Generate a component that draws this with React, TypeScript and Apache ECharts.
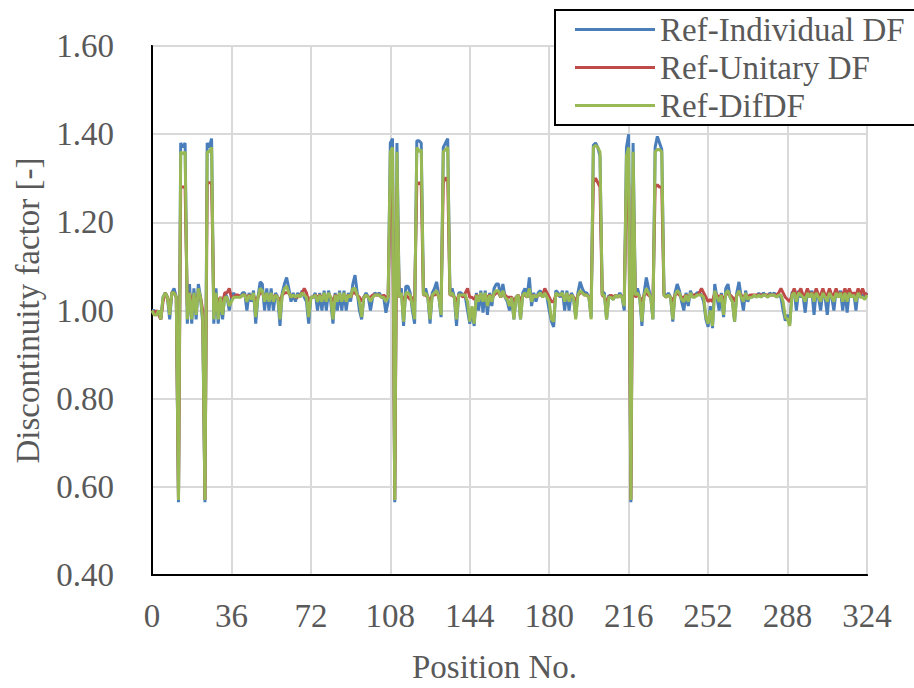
import React, { useEffect, useRef } from "react";
import * as echarts from "echarts";

const seriesNames = ["Ref-Individual DF", "Ref-Unitary DF", "Ref-DifDF"];
const colors = ["#4a7ebb", "#be4b48", "#98b954"];
const xTicks = { min: 0, max: 324, interval: 36 };
const yTicks = { min: 0.4, max: 1.6, interval: 0.2 };

const individualDF = [
  1.00, 1.00, 0.99, 1.00, 0.98, 1.03, 1.04, 1.03, 0.98, 1.04,
  1.05, 1.03, 0.565, 1.38, 1.37, 1.38, 0.97, 1.06, 0.97, 1.05,
  0.98, 1.06, 1.03, 0.97, 0.565, 1.38, 1.37, 1.39, 0.97, 1.05,
  0.97, 1.03, 0.98, 1.04, 1.03, 1.00, 1.03, 1.04, 1.03, 1.035,
  1.03, 1.04, 1.04, 1.00, 1.04, 1.02, 1.045, 0.97, 1.03, 1.065,
  1.06, 1.00, 1.05, 1.00, 1.05, 1.00, 1.04, 1.03, 0.965, 1.04,
  1.06, 1.075, 1.05, 1.02, 1.04, 1.02, 1.04, 1.03, 1.045, 1.03,
  1.02, 0.97, 1.03, 1.03, 1.04, 1.00, 1.04, 1.00, 1.045, 1.00,
  1.045, 1.02, 0.97, 1.04, 1.00, 1.045, 1.00, 1.045, 1.00, 1.04,
  1.02, 1.06, 1.08, 1.04, 1.00, 0.98, 1.03, 1.04, 1.03, 1.00,
  1.03, 1.04, 1.035, 1.04, 1.03, 1.03, 0.995, 1.02, 1.38, 1.39,
  0.565, 1.38, 1.04, 1.05, 0.965, 1.055, 1.055, 1.04, 1.00, 0.97,
  1.385, 1.385, 1.38, 1.04, 1.05, 1.03, 0.97, 1.04, 1.05, 1.065,
  1.03, 0.985, 1.37, 1.38, 1.39, 1.04, 1.05, 1.03, 0.965, 1.04,
  1.04, 1.035, 1.03, 1.00, 0.97, 1.00, 0.965, 1.04, 1.00, 1.045,
  0.995, 1.045, 0.99, 1.04, 1.01, 1.05, 1.06, 1.06, 1.03, 1.06,
  1.03, 1.02, 1.00, 1.03, 0.98, 1.03, 1.035, 0.98, 1.04, 1.05,
  1.03, 1.075, 1.01, 1.04, 1.02, 1.04, 1.045, 1.03, 1.04, 1.03,
  1.00, 0.975, 0.963, 1.045, 1.04, 1.03, 1.045, 1.00, 1.045, 1.00,
  1.04, 1.03, 0.985, 1.04, 1.065, 1.05, 1.04, 1.04, 1.03, 0.985,
  1.375, 1.38, 1.37, 1.35, 1.04, 1.04, 0.98, 1.035, 1.03, 1.025,
  1.035, 1.03, 1.04, 1.03, 1.00, 1.37, 1.40, 0.565, 1.38, 1.04,
  1.05, 1.03, 0.965, 1.04, 1.075, 1.05, 1.03, 0.98, 1.37, 1.395,
  1.38, 1.365, 1.04, 1.03, 1.04, 1.03, 0.975, 1.04, 1.06, 1.045,
  1.02, 1.00, 1.04, 1.01, 1.045, 1.03, 1.035, 1.04, 1.04, 1.035,
  1.02, 0.98, 0.963, 1.01, 0.96, 1.06, 1.03, 1.00, 1.04, 0.985,
  1.05, 1.06, 1.03, 1.02, 0.975, 1.04, 1.065, 1.03, 1.00, 1.045,
  1.02, 1.035, 1.03, 1.035, 1.03, 1.04, 1.03, 1.04, 1.035, 1.03,
  1.04, 1.035, 1.04, 1.03, 1.035, 1.03, 1.00, 0.977, 0.99, 0.97,
  1.04, 1.045, 1.00, 1.045, 1.03, 1.035, 0.995, 1.045, 1.03, 1.045,
  0.99, 1.045, 1.03, 1.00, 1.045, 1.03, 0.99, 1.045, 1.03, 1.00,
  1.045, 1.03, 1.045, 1.00, 1.045, 0.995, 1.045, 1.03, 1.04, 1.00,
  1.045, 1.03, 1.035, 1.03, 1.04,
];

const unitaryDF = [
  1.00, 0.99, 1.00, 0.99, 0.98, 1.02, 1.04, 1.03, 1.00, 1.04,
  1.04, 1.03, 0.57, 1.28, 1.28, 1.28, 1.01, 1.04, 1.02, 1.03,
  1.02, 1.04, 1.03, 1.00, 0.57, 1.29, 1.29, 1.29, 1.02, 1.03,
  1.02, 1.03, 1.02, 1.04, 1.04, 1.05, 1.03, 1.03, 1.035, 1.035,
  1.03, 1.035, 1.035, 1.03, 1.035, 1.03, 1.035, 1.02, 1.03, 1.04,
  1.04, 1.03, 1.035, 1.03, 1.035, 1.03, 1.035, 1.03, 1.02, 1.035,
  1.04, 1.04, 1.04, 1.03, 1.035, 1.03, 1.03, 1.035, 1.04, 1.05,
  1.04, 1.02, 1.03, 1.03, 1.035, 1.03, 1.035, 1.03, 1.035, 1.03,
  1.035, 1.03, 1.02, 1.035, 1.03, 1.035, 1.03, 1.035, 1.03, 1.035,
  1.03, 1.04, 1.04, 1.035, 1.03, 1.02, 1.03, 1.035, 1.03, 1.03,
  1.035, 1.035, 1.035, 1.035, 1.03, 1.035, 1.03, 1.03, 1.28, 1.29,
  0.57, 1.28, 1.03, 1.035, 1.02, 1.035, 1.03, 1.025, 1.03, 1.02,
  1.285, 1.29, 1.285, 1.035, 1.035, 1.03, 1.02, 1.035, 1.035, 1.04,
  1.03, 1.02, 1.29, 1.30, 1.30, 1.035, 1.035, 1.03, 1.02, 1.035,
  1.035, 1.03, 1.04, 1.05, 1.03, 1.03, 1.025, 1.035, 1.03, 1.035,
  1.03, 1.035, 1.03, 1.035, 1.03, 1.035, 1.04, 1.04, 1.03, 1.04,
  1.035, 1.03, 1.03, 1.03, 1.02, 1.03, 1.035, 1.02, 1.035, 1.035,
  1.03, 1.04, 1.03, 1.035, 1.03, 1.035, 1.035, 1.035, 1.05, 1.04,
  1.03, 1.02, 1.02, 1.035, 1.035, 1.035, 1.035, 1.03, 1.035, 1.03,
  1.035, 1.03, 1.02, 1.035, 1.04, 1.04, 1.035, 1.035, 1.03, 1.02,
  1.29, 1.30, 1.29, 1.28, 1.035, 1.03, 1.02, 1.03, 1.035, 1.03,
  1.035, 1.03, 1.035, 1.03, 1.03, 1.28, 1.29, 0.57, 1.28, 1.03,
  1.035, 1.03, 1.02, 1.035, 1.04, 1.035, 1.03, 1.02, 1.28, 1.285,
  1.28, 1.28, 1.035, 1.03, 1.035, 1.03, 1.02, 1.035, 1.04, 1.035,
  1.03, 1.03, 1.035, 1.03, 1.035, 1.035, 1.035, 1.035, 1.04, 1.05,
  1.04, 1.03, 1.02, 1.025, 1.02, 1.04, 1.035, 1.03, 1.035, 1.025,
  1.035, 1.04, 1.035, 1.03, 1.02, 1.035, 1.04, 1.035, 1.03, 1.035,
  1.03, 1.035, 1.035, 1.035, 1.035, 1.035, 1.035, 1.035, 1.035, 1.035,
  1.035, 1.035, 1.035, 1.035, 1.04, 1.05, 1.04, 1.03, 1.025, 1.02,
  1.035, 1.05, 1.035, 1.04, 1.05, 1.035, 1.035, 1.05, 1.035, 1.04,
  1.035, 1.05, 1.035, 1.035, 1.05, 1.035, 1.035, 1.05, 1.035, 1.035,
  1.05, 1.035, 1.04, 1.035, 1.05, 1.035, 1.05, 1.035, 1.04, 1.035,
  1.05, 1.035, 1.05, 1.035, 1.04,
];

const difDF = [
  1.00, 0.99, 0.99, 1.00, 0.98, 1.03, 1.04, 1.03, 0.99, 1.04,
  1.04, 1.03, 0.57, 1.36, 1.355, 1.36, 0.98, 1.04, 0.98, 1.04,
  0.99, 1.05, 1.03, 0.98, 0.57, 1.36, 1.36, 1.37, 0.98, 1.04,
  0.98, 1.03, 0.99, 1.03, 1.03, 1.01, 1.02, 1.03, 1.03, 1.03,
  1.03, 1.035, 1.035, 1.02, 1.035, 1.025, 1.04, 0.985, 1.03, 1.05,
  1.045, 1.02, 1.04, 1.02, 1.04, 1.02, 1.035, 1.03, 0.98, 1.035,
  1.05, 1.055, 1.04, 1.03, 1.035, 1.03, 1.035, 1.03, 1.04, 1.035,
  1.03, 0.985, 1.03, 1.03, 1.035, 1.02, 1.035, 1.02, 1.04, 1.02,
  1.04, 1.03, 0.98, 1.035, 1.02, 1.04, 1.02, 1.04, 1.02, 1.035,
  1.03, 1.05, 1.05, 1.035, 1.02, 0.985, 1.03, 1.035, 1.03, 1.02,
  1.03, 1.035, 1.035, 1.035, 1.03, 1.03, 1.02, 1.03, 1.36, 1.37,
  0.57, 1.36, 1.03, 1.04, 0.975, 1.04, 1.04, 1.035, 1.01, 0.98,
  1.37, 1.36, 1.365, 1.035, 1.04, 1.03, 0.98, 1.035, 1.04, 1.045,
  1.03, 0.99, 1.36, 1.365, 1.37, 1.035, 1.04, 1.03, 0.98, 1.035,
  1.035, 1.035, 1.035, 1.02, 0.975, 1.01, 0.97, 1.035, 1.02, 1.04,
  1.02, 1.04, 1.01, 1.035, 1.02, 1.04, 1.045, 1.045, 1.03, 1.045,
  1.03, 1.025, 1.01, 1.03, 0.98, 1.03, 1.035, 0.98, 1.035, 1.04,
  1.03, 1.05, 1.02, 1.035, 1.03, 1.035, 1.04, 1.03, 1.04, 1.03,
  1.02, 0.98, 0.975, 1.04, 1.035, 1.035, 1.04, 1.02, 1.04, 1.02,
  1.035, 1.03, 0.98, 1.035, 1.045, 1.04, 1.035, 1.035, 1.03, 0.98,
  1.37, 1.375, 1.37, 1.36, 1.035, 1.035, 0.98, 1.03, 1.03, 1.025,
  1.035, 1.03, 1.035, 1.03, 1.01, 1.35, 1.37, 0.57, 1.36, 1.035,
  1.04, 1.03, 0.975, 1.035, 1.05, 1.04, 1.03, 0.98, 1.36, 1.365,
  1.365, 1.36, 1.035, 1.03, 1.035, 1.03, 0.98, 1.035, 1.045, 1.04,
  1.025, 1.02, 1.035, 1.02, 1.04, 1.03, 1.03, 1.035, 1.035, 1.035,
  1.03, 0.985, 0.97, 1.00, 0.965, 1.045, 1.03, 1.02, 1.035, 0.99,
  1.04, 1.045, 1.03, 1.02, 0.975, 1.035, 1.045, 1.03, 1.02, 1.04,
  1.025, 1.03, 1.03, 1.035, 1.03, 1.035, 1.03, 1.035, 1.035, 1.03,
  1.035, 1.035, 1.035, 1.03, 1.035, 1.035, 1.02, 0.985, 0.98, 0.965,
  1.035, 1.04, 1.02, 1.04, 1.035, 1.03, 1.02, 1.04, 1.03, 1.04,
  1.02, 1.04, 1.03, 1.02, 1.04, 1.03, 1.02, 1.04, 1.03, 1.02,
  1.04, 1.03, 1.04, 1.02, 1.04, 1.02, 1.04, 1.03, 1.035, 1.02,
  1.04, 1.03, 1.03, 1.025, 1.035,
];

const allSeries = [individualDF, unitaryDF, difDF];
const FONT = "Liberation Serif, Times New Roman, Times, DejaVu Serif, serif";
const TEXT = "#595959";

export default function App() {
  const ref = useRef<HTMLDivElement>(null);
  useEffect(() => {
    if (!ref.current) return;
    const chart = echarts.init(ref.current, null, { renderer: "svg" });
    chart.setOption({
      animation: false,
      backgroundColor: "#fff",
      textStyle: { fontFamily: FONT },
      grid: {
        left: 152, right: 47, top: 46, bottom: 108,
        show: true, borderColor: "#000", borderWidth: 2, containLabel: false,
      },
      legend: {
        data: seriesNames,
        orient: "vertical",
        left: 555, top: 10,
        icon: "rect",
        itemWidth: 80, itemHeight: 3, itemGap: 5,
        padding: [3, 30, 3, 20],
        borderColor: "#000", borderWidth: 2, backgroundColor: "#fff",
        textStyle: { fontFamily: FONT, fontSize: 33, color: TEXT, lineHeight: 31 },
      },
      xAxis: {
        type: "value",
        min: xTicks.min, max: xTicks.max, interval: xTicks.interval,
        name: "Position No.", nameLocation: "middle", nameGap: 75,
        nameTextStyle: { fontFamily: FONT, fontSize: 33, color: TEXT, padding: [0, 30, 0, 0] },
        axisLine: { show: true, onZero: false, lineStyle: { color: "#000", width: 2 } },
        axisTick: { show: false },
        axisLabel: { margin: 24, fontFamily: FONT, fontSize: 33, color: TEXT },
        splitLine: { show: true, lineStyle: { color: "#d9d9d9", width: 2 } },
      },
      yAxis: {
        type: "value",
        min: yTicks.min, max: yTicks.max, interval: yTicks.interval,
        name: "Discontinuity factor [-]", nameLocation: "middle", nameGap: 108,
        nameTextStyle: { fontFamily: FONT, fontSize: 33, color: TEXT },
        axisLine: { show: true, lineStyle: { color: "#000", width: 2 } },
        axisTick: { show: false },
        axisLabel: {
          margin: 38, fontFamily: FONT, fontSize: 33, color: TEXT,
          formatter: (v: number) => v.toFixed(2),
        },
        splitLine: { show: true, lineStyle: { color: "#d9d9d9", width: 2 } },
      },
      series: allSeries.map((vals, s) => ({
        name: seriesNames[s],
        type: "line",
        showSymbol: false,
        symbol: "none",
        color: colors[s],
        lineStyle: { width: 3, color: colors[s] },
        data: vals.map((v, i) => [i, v]),
      })),
    });
    return () => chart.dispose();
  }, []);
  return (
    <div
      ref={ref}
      style={{ position: "fixed", left: 0, top: 0, width: 914, height: 688, background: "#fff" }}
    />
  );
}
